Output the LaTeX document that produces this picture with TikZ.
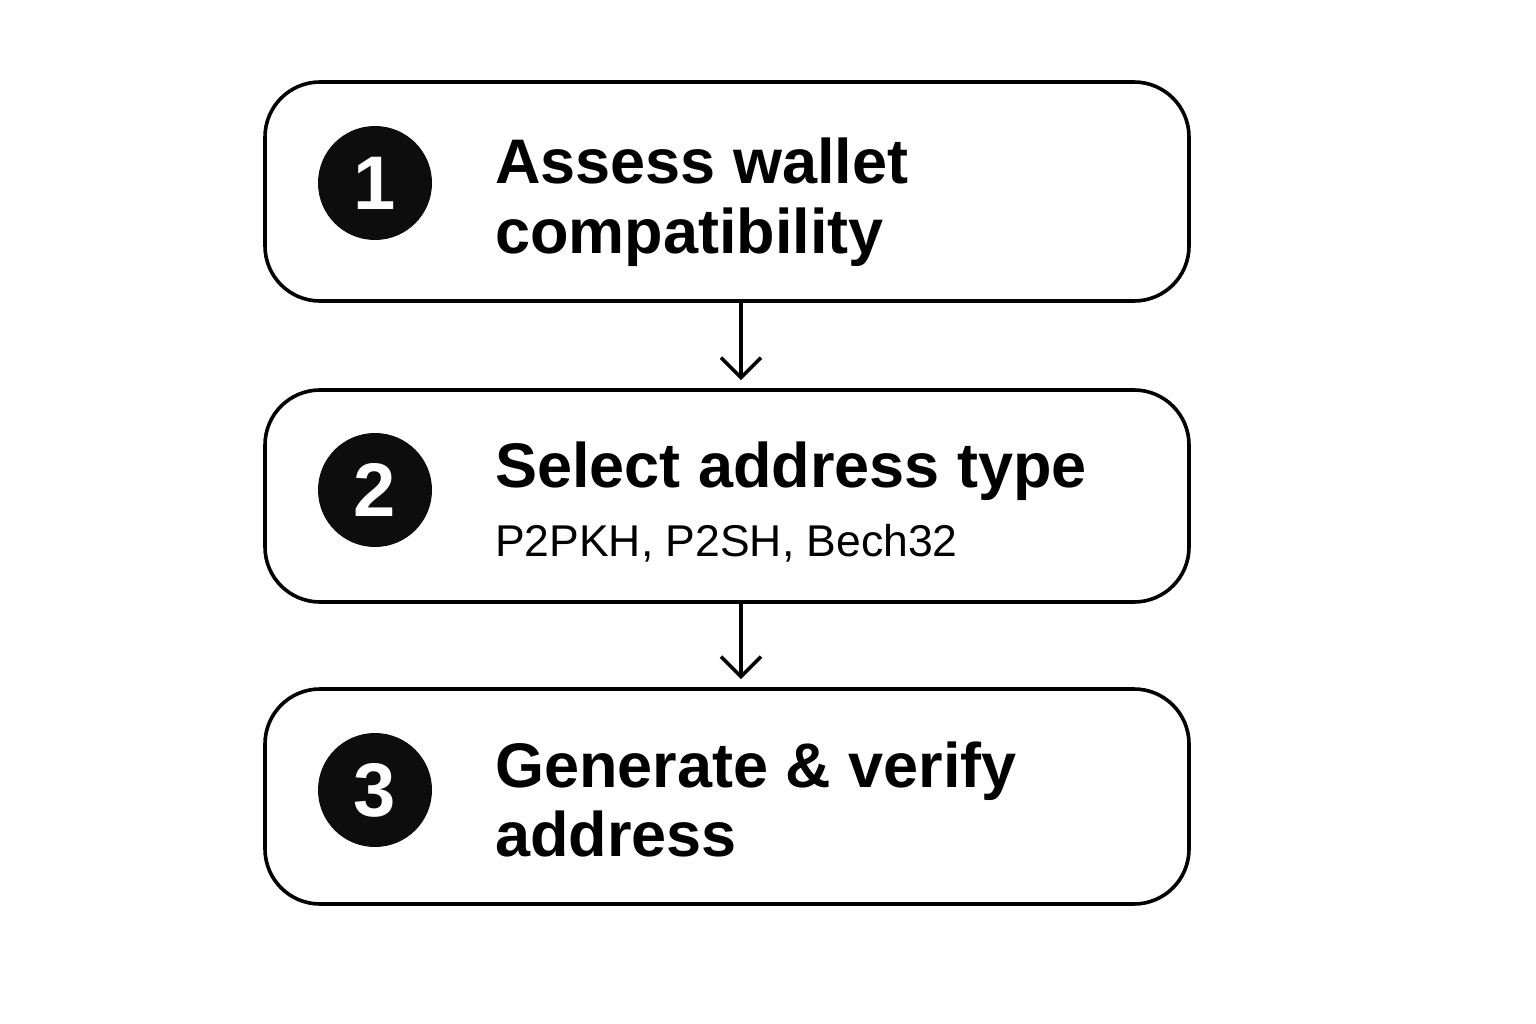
\documentclass[tikz,border=0pt]{standalone}
\usepackage{fontspec}
\setmainfont{Liberation Sans}
\usetikzlibrary{arrows.meta}
\begin{document}
\begin{tikzpicture}[x=1pt,y=-1pt,
  stepbox/.style={draw=black, line width=3.6pt, rounded corners=55pt, minimum width=924pt, inner sep=0pt},
  numdot/.style={circle, fill=black!95, minimum size=114pt, inner sep=0pt, text=white, font=\fontsize{76}{76}\selectfont\bfseries},
  title/.style={anchor=base west, inner sep=0pt, font=\fontsize{63}{63}\selectfont\bfseries},
  subtitle/.style={anchor=base west, inner sep=0pt, font=\fontsize{44.5}{44.5}\selectfont},
  flow/.style={line width=3.6pt, -{Straight Barb[length=20pt,width=40pt,line width=3.6pt]}, shorten >=8pt}
]
\useasboundingbox[fill=white] (0,0) rectangle (1536,1024);
\node[stepbox, minimum height=219pt] (b1) at (727,191.5) {};
\node[stepbox, minimum height=212pt] (b2) at (727,496) {};
\node[stepbox, minimum height=215pt] (b3) at (727,796.5) {};
\node[numdot] (n1) at (375,183) {1};
\node[numdot] (n2) at (375,490) {2};
\node[numdot] (n3) at (375,790) {3};
\node[title] (t1a) at (495,184) {Assess wallet};
\node[title] (t1b) at (495,254) {compatibility};
\node[title] (t2a) at (495,487) {Select address type};
\node[subtitle] (t2b) at (495,556) {P2PKH, P2SH, Bech32};
\node[title] (t3a) at (495,787) {Generate \& verify};
\node[title] (t3b) at (495,856) {address};
\coordinate (a1s) at (741,301.5);
\coordinate (a1e) at (741,390);
\coordinate (a2s) at (741,602);
\coordinate (a2e) at (741,689);
\draw[flow] (b1.south -| a1s) -- (b2.north -| a1e);
\draw[flow] (b2.south -| a2s) -- (b3.north -| a2e);
\end{tikzpicture}
\end{document}
